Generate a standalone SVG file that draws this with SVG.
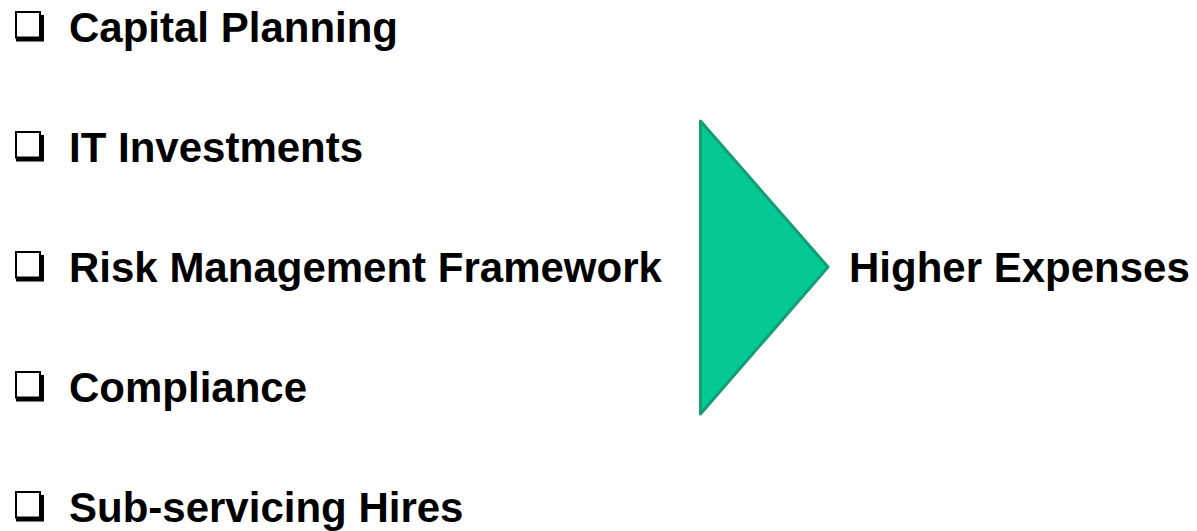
<svg xmlns="http://www.w3.org/2000/svg" width="1197" height="531" viewBox="0 0 1197 531">
<style>
.t{font-family:"Liberation Sans",Arial,sans-serif;font-weight:bold;font-size:42px;fill:#000}
.box{fill:#fff;stroke:#000;stroke-width:2}
.sh{fill:#000}
</style>
<defs>
<g id="chk">
<path class="sh" d="M40,-27 h4 v26.5 h-28 v-4 h24 z"/>
<rect class="box" x="16" y="-30" width="24" height="25.5"/>
</g>
</defs>
<rect width="1197" height="531" fill="#fff"/>
<g id="item1"><use href="#chk" transform="translate(0,42)"/><text class="t" x="69" y="42">Capital Planning</text></g>
<g id="item2"><use href="#chk" transform="translate(0,162)"/><text class="t" x="69" y="162">IT Investments</text></g>
<g id="item3"><use href="#chk" transform="translate(0,282)"/><text class="t" x="69" y="282">Risk Management Framework</text></g>
<g id="item4"><use href="#chk" transform="translate(0,402)"/><text class="t" x="69" y="402">Compliance</text></g>
<g id="item5"><use href="#chk" transform="translate(0,522)"/><text class="t" x="69" y="522">Sub-servicing Hires</text></g>
<g id="arrow"><polygon points="700.5,121 828,267 700.5,414" fill="#04C994" stroke="#139E74" stroke-width="3" stroke-linejoin="round"/></g>
<g id="result"><text class="t" x="849" y="282">Higher Expenses</text></g>
<g id="connectors"></g>
</svg>
